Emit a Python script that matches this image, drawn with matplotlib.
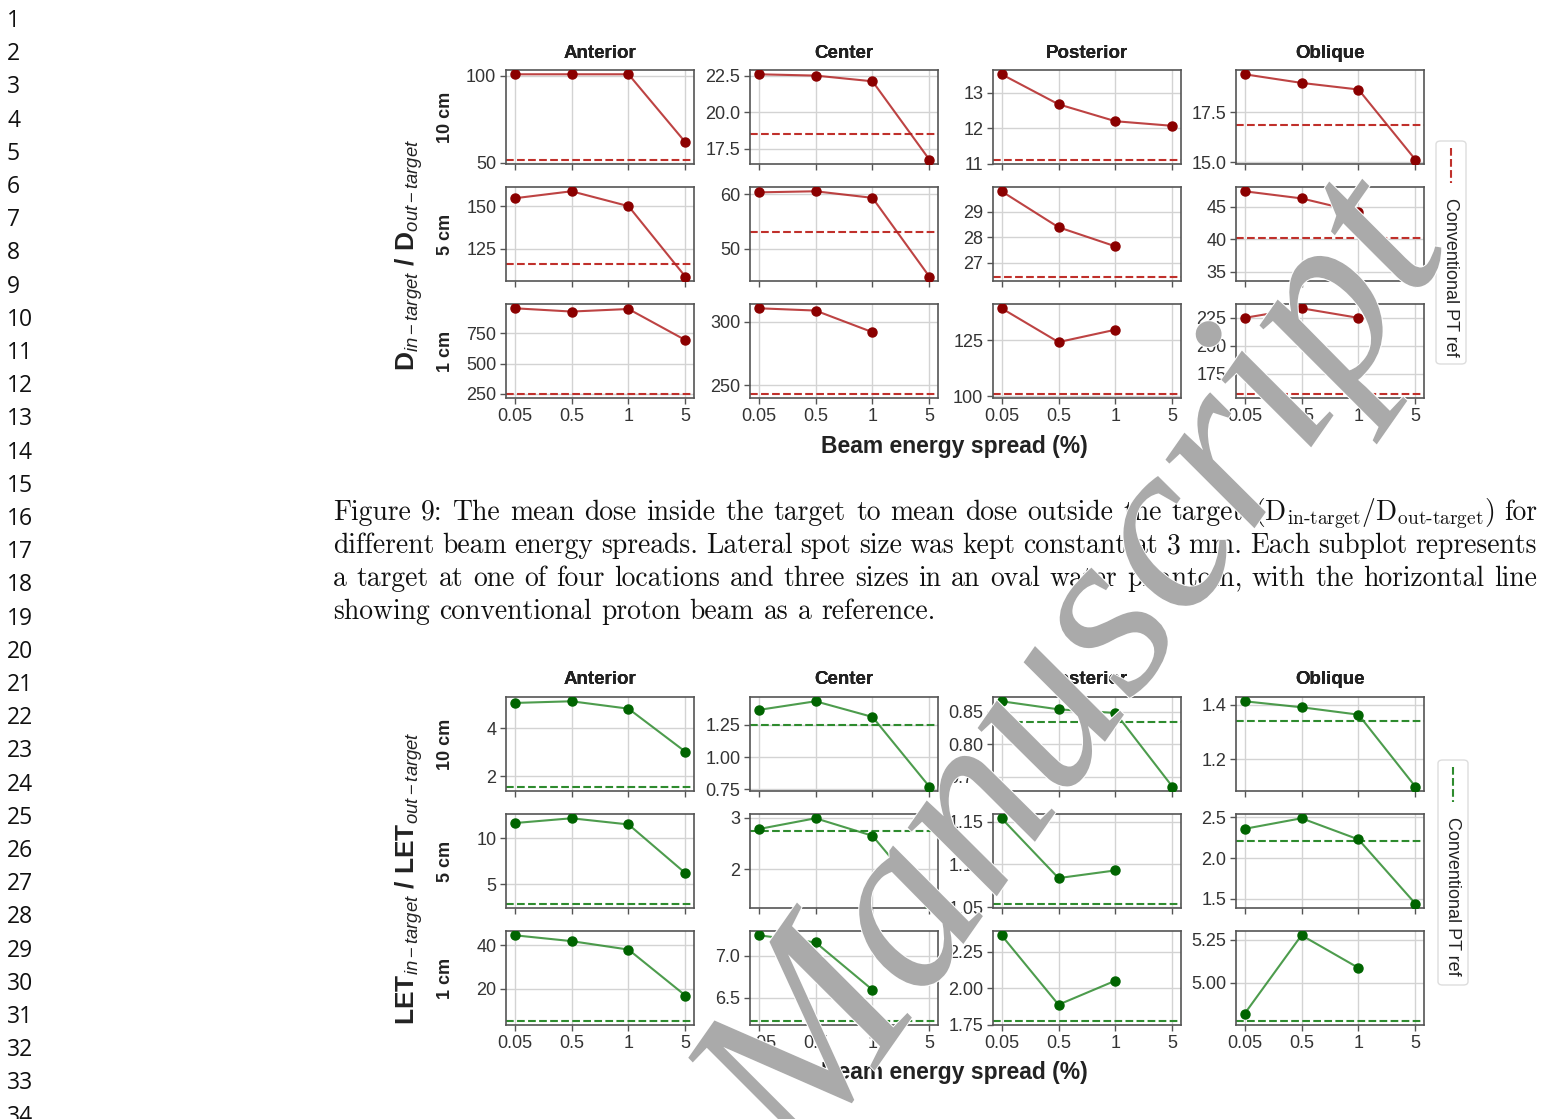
import numpy as np
import matplotlib
matplotlib.use("Agg")
import matplotlib.pyplot as plt
import matplotlib.patheffects as pe
from matplotlib.patches import FancyBboxPatch
from matplotlib.lines import Line2D

nan = np.nan

spreads = ["0.05", "0.5", "1", "5"]
locations = ["Anterior", "Center", "Posterior", "Oblique"]
sizes = ["10 cm", "5 cm", "1 cm"]

# D_in / D_out, one list per location (Anterior, Center, Posterior, Oblique)
dose_10cm = [[100.8, 100.8, 100.8, 61.7], [22.59, 22.5, 22.11, 16.75],
             [13.53, 12.68, 12.2, 12.07], [19.39, 18.96, 18.63, 15.13]]
dose_5cm = [[154.6, 158.7, 150.0, 108.7], [60.3, 60.5, 59.3, 44.9],
            [29.8, 28.39, 27.64, nan], [47.4, 46.3, 44.2, 34.2]]
dose_1cm = [[955, 928, 949, 693], [310.7, 308.9, 291.9, nan],
            [139.1, 124.1, 129.6, nan], [225, 233.6, 225, nan]]
dose_ref_10cm = [51.7, 18.48, 11.11, 16.84]
dose_ref_5cm = [116.2, 53.0, 26.45, 40.25]
dose_ref_1cm = [252, 243.5, 101.2, 157]
dose_ticks_10cm = [["50", "100"], ["17.5", "20.0", "22.5"], ["11", "12", "13"], ["15.0", "17.5"]]
dose_ticks_5cm = [["125", "150"], ["50", "60"], ["27", "28", "29"], ["35", "40", "45"]]
dose_ticks_1cm = [["250", "500", "750"], ["250", "300"], ["100", "125"], ["175", "200", "225"]]

# LET_in / LET_out
let_10cm = [[5.06, 5.13, 4.82, 3.02], [1.364, 1.431, 1.31, 0.771],
            [0.866, 0.8536, 0.848, 0.7345], [1.412, 1.39, 1.363, 1.099]]
let_5cm = [[11.65, 12.17, 11.5, 6.21], [2.78, 2.99, 2.65, 1.33],
           [1.154, 1.084, 1.093, nan], [2.36, 2.49, 2.23, 1.44]]
let_1cm = [[44.7, 42.0, 38.1, 16.9], [7.248, 7.163, 6.594, nan],
           [2.364, 1.888, 2.053, nan], [4.82, 5.275, 5.086, nan]]
let_ref_10cm = [1.56, 1.245, 0.8345, 1.341]
let_ref_5cm = [2.9, 2.75, 1.054, 2.21]
let_ref_1cm = [5.3, 6.224, 1.778, 4.78]
let_ticks_10cm = [["2", "4"], ["0.75", "1.00", "1.25"], ["0.75", "0.80", "0.85"], ["1.2", "1.4"]]
let_ticks_5cm = [["5", "10"], ["2", "3"], ["1.05", "1.10", "1.15"], ["1.5", "2.0", "2.5"]]
let_ticks_1cm = [["20", "40"], ["6.5", "7.0"], ["1.75", "2.00", "2.25"], ["5.00", "5.25"]]

caption_lines = [
    r"Figure 9: The mean dose inside the target to mean dose outside the target "
    r"(D$_{\text{in-target}}$/D$_{\text{out-target}}$) for",
    "different beam energy spreads. Lateral spot size was kept constant at 3 mm. Each subplot represents",
    "a target at one of four locations and three sizes in an oval water phantom, with the horizontal line",
    "showing conventional proton beam as a reference.",
]

plt.rcParams["font.family"] = ["Liberation Sans", "DejaVu Sans"]
plt.rcParams["mathtext.fontset"] = "custom"
plt.rcParams["mathtext.it"] = "Liberation Sans:italic"
plt.rcParams["mathtext.rm"] = "Liberation Sans"

W, H = 1545, 1119
fig = plt.figure(figsize=(W / 100, H / 100), dpi=100)


def fx(x):
    return x / W


def fy(y):
    return 1 - y / H


col_left = [506, 750, 993, 1236]
col_w = 188
row_h = 94


def draw_block(rows_top, values, refs, ticks, line_c, mark_c, ref_c,
               ylabel, ylabel_y, title_y, xlabel_y, leg):
    for r, top in enumerate(rows_top):
        for c in range(4):
            ax = fig.add_axes([fx(col_left[c]), fy(top + row_h), col_w / W, row_h / H])
            xs = np.arange(len(spreads))
            ax.plot(xs, values[r][c], color=line_c, lw=1.5, alpha=0.85, zorder=3)
            ax.plot(xs, values[r][c], ls="none", marker="o", ms=6.5,
                    color=mark_c, zorder=4)
            ax.axhline(refs[r][c], color=ref_c, ls="--", lw=1.5, zorder=2)
            ax.set_xticks(xs)
            ax.set_xticklabels(spreads if r == len(rows_top) - 1 else [])
            ax.set_xlim(-0.15, len(spreads) - 0.85)
            ax.set_yticks([float(t) for t in ticks[r][c]])
            ax.set_yticklabels(ticks[r][c])
            ax.grid(True, color="#d3d3d3", lw=1.0)
            ax.set_axisbelow(True)
            for s in ax.spines.values():
                s.set_color("#555555")
                s.set_linewidth(1.2)
            ax.tick_params(direction="out", length=4, width=1, color="#555555",
                           labelsize=13, labelcolor="#333333", pad=3)
        for c, name in enumerate(locations):
            fig.text(fx(col_left[c] + col_w / 2), fy(title_y), name, ha="center",
                     va="center", fontsize=13.5, fontweight="bold", color="#222222")
    for r, name in enumerate(sizes):
        fig.text(fx(446), fy(rows_top[r] + row_h / 2), name, rotation=90, ha="center",
                 va="center", fontsize=13, fontweight="bold", color="#222222")
    fig.text(fx(409), fy(ylabel_y), ylabel, rotation=90, ha="center", va="center",
             fontsize=19, fontweight="bold", color="#222222")
    fig.text(fx(954), fy(xlabel_y), "Beam energy spread (%)", ha="center",
             va="center", fontsize=16.5, fontweight="bold", color="#222222")
    # rotated legend
    x0, y0, x1, y1 = leg
    box = FancyBboxPatch((fx(x0), fy(y1)), (x1 - x0) / W, (y1 - y0) / H,
                         boxstyle="round,pad=0,rounding_size=0.003",
                         transform=fig.transFigure, fc="white", ec="#dddddd", lw=1)
    fig.add_artist(box)
    xc = (x0 + x1) / 2
    fig.add_artist(Line2D([fx(xc), fx(xc)], [fy(y0 + 7), fy(y0 + 42)],
                          transform=fig.transFigure, color=ref_c, ls="--", lw=1.5))
    fig.text(fx(xc), fy(y0 + 57), "Conventional PT ref", rotation=-90, ha="center",
             va="top", fontsize=13, color="#222222")


draw_block([70, 187, 304],
           [dose_10cm, dose_5cm, dose_1cm],
           [dose_ref_10cm, dose_ref_5cm, dose_ref_1cm],
           [dose_ticks_10cm, dose_ticks_5cm, dose_ticks_1cm],
           "#b22222", "#8b0000", "#c0302b",
           r"D$_{in-target}$ / D$_{out-target}$", 255, 53, 447,
           (1436, 141, 1466, 364))

draw_block([697, 814, 931],
           [let_10cm, let_5cm, let_1cm],
           [let_ref_10cm, let_ref_5cm, let_ref_1cm],
           [let_ticks_10cm, let_ticks_5cm, let_ticks_1cm],
           "#2e8b2e", "#006400", "#2e8b2e",
           r"LET$_{in-target}$ / LET$_{out-target}$", 878, 679, 1072,
           (1438, 760, 1468, 985))

# caption, justified to the text width
renderer = fig.canvas.get_renderer()
cap_left, cap_right = 333, 1537
probe = fig.text(0, 0, caption_lines[3], fontfamily="cmr10", fontsize=17,
                 math_fontfamily="cm")
w = probe.get_window_extent(renderer).width
probe.remove()
cap_fs = 17 * 600 / w
space = fig.text(0, 0, "a a", fontfamily="cmr10", fontsize=cap_fs)
aa = fig.text(0, 0, "aa", fontfamily="cmr10", fontsize=cap_fs)
space_w = space.get_window_extent(renderer).width - aa.get_window_extent(renderer).width
space.remove()
aa.remove()

for i, line in enumerate(caption_lines):
    words = line.split(" ")
    arts, widths = [], []
    for wd in words:
        t = fig.text(0, fy(520 + 33 * i), wd, fontfamily="cmr10", fontsize=cap_fs,
                     math_fontfamily="cm", va="baseline", ha="left", color="#111111")
        arts.append(t)
        widths.append(t.get_window_extent(renderer).width)
    if i < len(caption_lines) - 1:
        gap = (cap_right - cap_left - sum(widths)) / (len(words) - 1)
    else:
        gap = space_w
    x = cap_left
    for t, wd in zip(arts, widths):
        t.set_x(fx(x))
        x += wd + gap

# line numbers
for n in range(1, 35):
    fig.text(fx(7), fy(21 + 33.2 * (n - 1)), str(n), fontfamily="Open Sans",
             fontsize=16.5, ha="left", va="center", color="#111111")

# watermark
fig.text(fx(1080), fy(675), "Manuscript", rotation=55, rotation_mode="anchor",
         ha="center", va="center", fontfamily="Liberation Serif", style="italic",
         fontsize=176, color="#aaaaaa", zorder=100,
         path_effects=[pe.withStroke(linewidth=1.5, foreground="white")])

fig.savefig("out.png", dpi=100)
